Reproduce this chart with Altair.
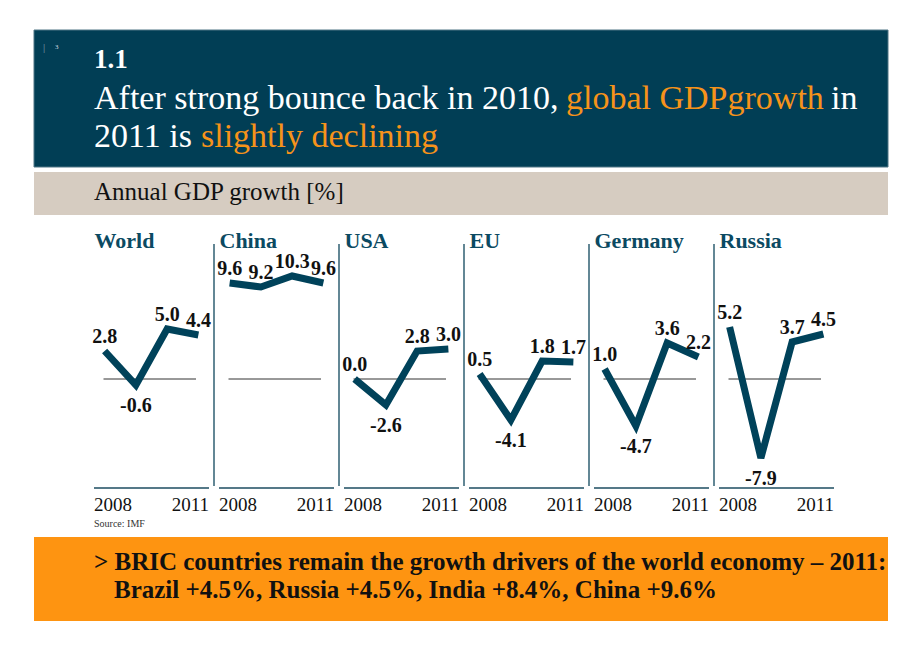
import altair as alt
import pandas as pd

# ---------------- data ----------------
countries = ["World", "China", "USA", "EU", "Germany", "Russia"]
years = [2008, 2009, 2010, 2011]
world = [2.8, -0.6, 5.0, 4.4]
china = [9.6, 9.2, 10.3, 9.6]
usa = [0.0, -2.6, 2.8, 3.0]
eu = [0.5, -4.1, 1.8, 1.7]
germany = [1.0, -4.7, 3.6, 2.2]
russia = [5.2, -7.9, 3.7, 4.5]
series = [world, china, usa, eu, germany, russia]
year_ticks = [2008, 2011]

slide_no = "3"
section = "1.1"
title_line1 = ["After strong bounce back in 2010,", "global GDPgrowth", "in"]
title_line2 = ["2011 is", "slightly declining"]
band_text = "Annual GDP growth [%]"
source_text = "Source: IMF"
bullet_line1 = "> BRIC countries remain the growth drivers of the world economy \u2013 2011:"
bullet_line2 = "Brazil +4.5%, Russia +4.5%, India +8.4%, China +9.6%"

# ---------------- style ----------------
SERIF = "Liberation Serif"
DARK = "#013e55"
LINE = "#00425a"
TITLE = "#0b4a62"
GRAY = "#d6ccc1"
ORANGE = "#fe9411"
ORANGE_TXT = "#f6931a"
SEP = "#2f5f72"
W_ALL = 854
PANEL_W = 125
PANEL_H = 300

one = alt.Chart(pd.DataFrame({"k": [0]}))


def txt(s, x, y, size, color, weight="normal", align="left"):
    return one.mark_text(
        text=s, align=align, baseline="alphabetic", font=SERIF,
        fontSize=size, fontWeight=weight, color=color
    ).encode(x=alt.value(x), y=alt.value(y))


# ---------------- header ----------------
header = alt.layer(
    one.mark_rect(color=DARK, stroke="#4f7585", strokeWidth=1).encode(
        x=alt.value(0), x2=alt.value(W_ALL), y=alt.value(0), y2=alt.value(137)),
    one.mark_rect(color=GRAY).encode(
        x=alt.value(0), x2=alt.value(W_ALL), y=alt.value(142), y2=alt.value(185)),
    txt("|", 9, 21, 11, "#7f9da9"),
    txt(slide_no, 21, 19, 7, "#d0dbe0"),
    txt(section, 60, 37.7, 27, "white", "bold"),
    txt(title_line1[0], 60, 79, 34, "white"),
    txt(title_line1[1], 532, 79, 34, ORANGE_TXT),
    txt(title_line1[2], 797, 79, 34, "white"),
    txt(title_line2[0], 60, 116.7, 34, "white"),
    txt(title_line2[1], 167, 116.7, 34, ORANGE_TXT),
    txt(band_text, 60, 170, 25, "#111111"),
).properties(width=W_ALL, height=185)


# ---------------- panels ----------------
def panel(i):
    name = countries[i]
    vals = series[i]
    df = pd.DataFrame({"year": years, "value": vals,
                       "label": [f"{v:.1f}" for v in vals]})
    xs = alt.Scale(domain=[2007.5, 2011.5])
    ys = alt.Scale(domain=[-13.6, 16.4])
    X = alt.X("year:Q", scale=xs, axis=None)
    Y = alt.Y("value:Q", scale=ys, axis=None)
    base = alt.Chart(df)
    single = alt.Chart(pd.DataFrame({"country": [name]}))
    ticks = alt.Chart(pd.DataFrame({"year": year_ticks,
                                    "label": [str(y) for y in year_ticks]}))
    layers = []
    if i > 0:
        layers.append(single.mark_rule(color=SEP, strokeWidth=1.5).encode(
            x=alt.value(0), y=alt.value(29), y2=alt.value(271)))
    layers.append(single.mark_rule(color="#1d4d61", strokeWidth=1.5).encode(
        x=alt.value(5), x2=alt.value(120), y=alt.value(273)))
    layers.append(single.mark_rule(color="#333333", strokeWidth=1).encode(
        x=alt.value(14.5), x2=alt.value(107),
        y=alt.YDatum(0, scale=ys, axis=None)))
    layers.append(base.mark_line(color=LINE, strokeWidth=7, strokeJoin="miter",
                                 strokeMiterLimit=3).encode(x=X, y=Y))
    layers.append(base.transform_filter("datum.value >= 0").mark_text(
        dy=-14, baseline="middle", font=SERIF, fontSize=20, fontWeight="bold",
        color="#111111").encode(x=X, y=Y, text="label:N"))
    layers.append(base.transform_filter("datum.value < 0").mark_text(
        dy=21, baseline="middle", font=SERIF, fontSize=20, fontWeight="bold",
        color="#111111").encode(x=X, y=Y, text="label:N"))
    layers.append(single.mark_text(
        align="left", baseline="alphabetic", font=SERIF, fontSize=22,
        fontWeight="bold", color=TITLE).encode(
        x=alt.value(5.5), y=alt.value(33), text="country:N"))
    layers.append(ticks.transform_filter("datum.year == 2008").mark_text(
        align="left", baseline="alphabetic", dx=-10.6, font=SERIF, fontSize=19,
        color="#111111").encode(x=X, y=alt.value(296), text="label:N"))
    layers.append(ticks.transform_filter("datum.year == 2011").mark_text(
        align="right", baseline="alphabetic", dx=10.6, font=SERIF, fontSize=19,
        color="#111111").encode(x=X, y=alt.value(296), text="label:N"))
    return alt.layer(*layers).properties(width=PANEL_W, height=PANEL_H)


spacer = one.mark_text(text="").encode(x=alt.value(25), y=alt.value(150)).properties(
    width=54.5, height=PANEL_H)

panels = alt.hconcat(spacer, *[panel(i) for i in range(len(countries))],
                     spacing=0, bounds="flush")

# ---------------- footer ----------------
footer = alt.layer(
    txt(source_text, 60, 11.5, 10, "#333333"),
    one.mark_rect(color=ORANGE).encode(
        x=alt.value(0), x2=alt.value(W_ALL), y=alt.value(22), y2=alt.value(106)),
    txt(bullet_line1, 60, 55, 25, "#111111", "bold"),
    txt(bullet_line2, 80, 83, 25, "#111111", "bold"),
).properties(width=W_ALL, height=106)

chart = alt.vconcat(header, panels, footer, spacing=0).properties(
    padding={"left": 25, "top": 21, "right": 5, "bottom": 5}
).configure(font=SERIF).configure_view(stroke=None)

chart.save("out.html", embed_options={"renderer": "svg", "actions": False})
